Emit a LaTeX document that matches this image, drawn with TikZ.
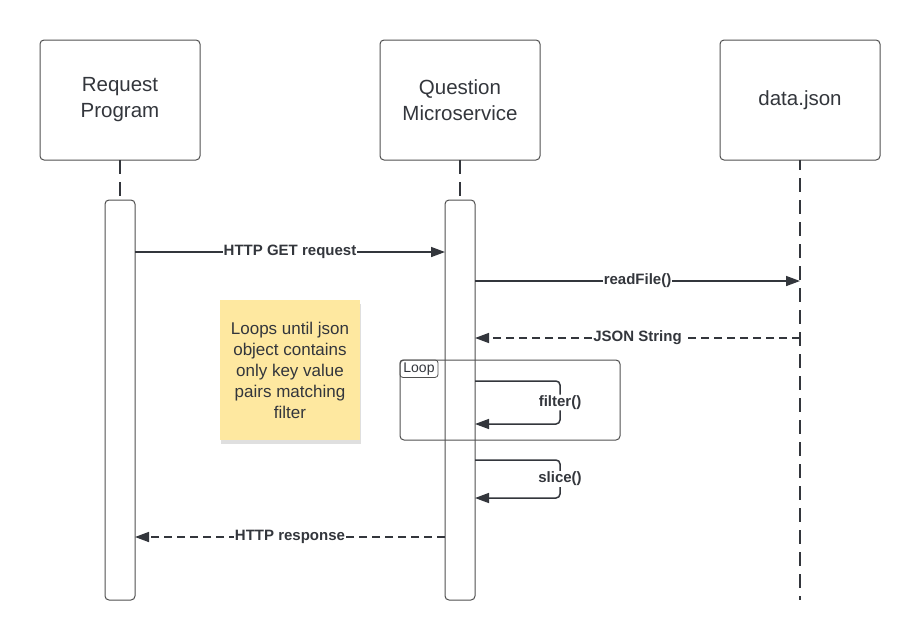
\documentclass[tikz,border=0pt]{standalone}
\usepackage{fontspec}
\setmainfont{Liberation Sans}
\usetikzlibrary{arrows.meta, positioning, shadows}
\definecolor{linegray}{RGB}{51,54,60}
\definecolor{boxgray}{RGB}{80,80,80}
\definecolor{notebg}{RGB}{254,232,160}

\begin{document}
\begin{tikzpicture}[
    x=1pt, y=-1pt,
    actor/.style={rectangle, draw=boxgray, line width=1pt, outer sep=0pt, rounded corners=4pt, minimum width=160pt, minimum height=120pt, align=center, font=\fontsize{20.5}{26}\selectfont, text=linegray},
    bar/.style={rectangle, draw=boxgray, line width=1pt, outer sep=0pt, rounded corners=4pt, minimum width=30pt, minimum height=400pt, fill=white},
    lifeline/.style={draw=linegray, line width=1.6pt, dash pattern=on 14pt off 8pt},
    msg/.style={-{Triangle[length=14pt, width=10pt]}, draw=linegray, line width=1.5pt},
    reply/.style={msg, dash pattern=on 8pt off 5pt},
    lbl/.style={fill=white, inner sep=1pt, font=\bfseries\fontsize{15}{18}\selectfont, text=linegray},
    frame/.style={rectangle, draw=boxgray, line width=1pt, rounded corners=4pt, minimum width=220pt, minimum height=80pt},
    note/.style={rectangle, fill=notebg, minimum width=140pt, minimum height=140pt, align=center, font=\fontsize{17}{21}\selectfont, text=linegray, drop shadow={opacity=0.25, shadow xshift=1pt, shadow yshift=-4pt}}
]
    \useasboundingbox (0,0) rectangle (920,640);

    % Participants
    \node[actor] (req) at (120,100) {Request\\Program};
    \node[actor, right=180pt of req] (qms) {Question\\Microservice};
    \node[actor, right=180pt of qms] (data) {data.json};

    % Lifelines and activation bars
    \node[bar, below=40pt of req] (reqbar) {};
    \node[bar, below=40pt of qms] (qmsbar) {};
    \coordinate (dataend) at (800,600);
    \draw[lifeline] (req.south) -- (reqbar.north);
    \draw[lifeline] (qms.south) -- (qmsbar.north);
    \draw[lifeline, dash phase=4pt] (data.south) -- (dataend);

    % Sticky note
    \node[note] (memo) at (290,370) {Loops until json\\object contains\\only key value\\pairs matching\\filter};

    % Messages
    \draw[msg] (reqbar.east |- 0,252) -- node[lbl] {HTTP GET request} (qmsbar.west |- 0,252);
    \draw[msg] (qmsbar.east |- 0,281) -- node[lbl] {readFile()} (data.south |- 0,281);
    \draw[reply] (data.south |- 0,338) -- node[lbl] {JSON String} (qmsbar.east |- 0,338);

    % Loop frame
    \node[frame] (loop) at (510,400) {};
    \node[draw=boxgray, line width=0.8pt, rounded corners=3pt, anchor=north west, inner xsep=3.5pt, inner ysep=2.5pt, font=\fontsize{14}{16}\selectfont, text=linegray] (looptag) at (loop.north west) {Loop};

    % Self calls
    \draw[msg, rounded corners=4pt] (qmsbar.east |- 0,381) -- ++(85,0) -- node[lbl] {filter()} ++(0,43) -- (qmsbar.east |- 0,424);
    \draw[msg, rounded corners=4pt] (qmsbar.east |- 0,460) -- ++(85,0) -- node[lbl] {slice()} ++(0,38) -- (qmsbar.east |- 0,498);

    % Response
    \draw[reply] (qmsbar.west |- 0,537) -- node[lbl] {HTTP response} (reqbar.east |- 0,537);

\end{tikzpicture}
\end{document}
